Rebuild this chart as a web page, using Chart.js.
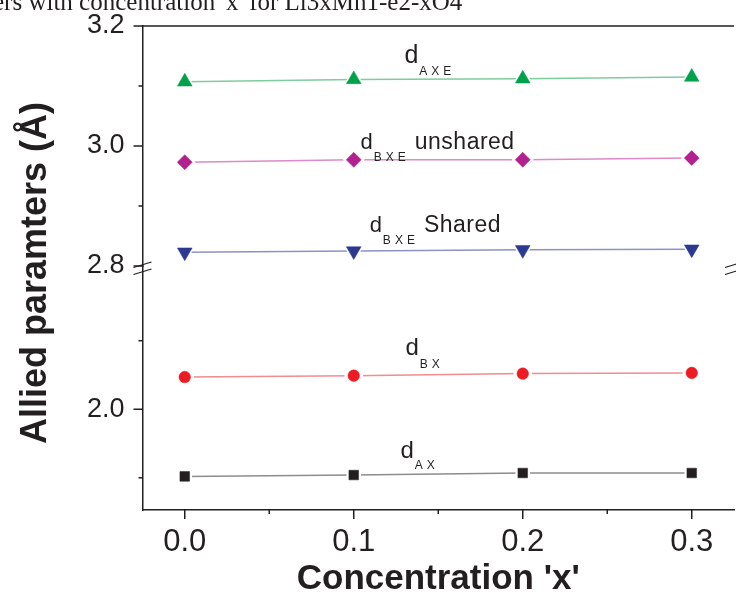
<!DOCTYPE html>
<html>
<head>
<meta charset="utf-8">
<script src="https://cdn.jsdelivr.net/npm/chart.js@4.4.0/dist/chart.umd.min.js"></script>
<style>
  html, body { margin: 0; padding: 0; background: #fff; overflow: hidden; width: 736px; height: 598px; }
  #wrap { position: relative; width: 736px; height: 598px; overflow: hidden; }
  #chart { position: absolute; left: 0; top: 0; }
  #cap { position: absolute; left: -7px; top: -11px; font: 25px "Liberation Serif", serif; line-height: 25px; color: #231f20; white-space: nowrap; }
</style>
</head>
<body>
<div id="wrap">
  <canvas id="chart" width="746" height="598"></canvas>
  <div id="cap">ers with concentration 'x' for Li3xMn1-e2-xO4</div>
</div>
<script>
// values
const concentration = [0.0, 0.1, 0.2, 0.3];
const dAXE = [3.107, 3.111, 3.112, 3.115];
const dBXEunshared = [2.973, 2.977, 2.977, 2.980];
const dBXEshared = [2.823, 2.825, 2.827, 2.828];
const dBX = [2.047, 2.049, 2.052, 2.053];
const dAX = [1.902, 1.904, 1.907, 1.907];

const xTicks = [0.0, 0.05, 0.1, 0.15, 0.2, 0.25, 0.3];
const xTickLabels = ['0.0', '', '0.1', '', '0.2', '', '0.3'];
const yTopTicks = [2.8, 2.9, 3.0, 3.1, 3.2];
const yTopTickLabels = ['2.8', '', '3.0', '', '3.2'];
const yLowTicks = [1.9, 2.0, 2.1];
const yLowTickLabels = ['', '2.0', ''];

const INK = '#231f20';
Chart.defaults.font.family = '"Liberation Sans", Arial, sans-serif';
Chart.defaults.color = INK;

const series = [
  { values: dAXE, axis: 'yTop', shape: 'triangle', rot: 0, r: 8.5, mark: '#00a14b', line: '#7fcc9c' },
  { values: dBXEunshared, axis: 'yTop', shape: 'rectRot', rot: 0, r: 7.5, mark: '#b3208f', line: '#dd8ac8' },
  { values: dBXEshared, axis: 'yTop', shape: 'triangle', rot: 180, r: 8.5, mark: '#2b3990', line: '#8c92c6' },
  { values: dBX, axis: 'yLow', shape: 'circle', r: 5.8, rot: 0, mark: '#ed1c24', line: '#f28c8f' },
  { values: dAX, axis: 'yLow', shape: 'rect', r: 6.8, rot: 0, mark: '#231f20', line: '#8d8d8d' }
];

const datasets = [];
series.forEach(s => {
  const pts = concentration.map((c, i) => ({ x: c, y: s.values[i] }));
  // thin line, with a white halo at each point so it stops short of the marker
  datasets.push({
    data: pts, yAxisID: s.axis, xAxisID: 'x', order: 2,
    showLine: true, borderColor: s.line, borderWidth: 1.5,
    pointStyle: s.shape, pointRotation: s.rot, pointRadius: s.r + 3.5,
    pointBackgroundColor: '#fff', pointBorderWidth: 0, pointHoverRadius: 0
  });
  datasets.push({
    data: pts, yAxisID: s.axis, xAxisID: 'x', order: 0,
    showLine: false, pointStyle: s.shape, pointRotation: s.rot, pointRadius: s.r,
    pointBackgroundColor: s.mark, pointBorderColor: s.mark, pointBorderWidth: 0.5
  });
});

// label anchors, in data units of each axis
const labelSpots = [
  { axis: 'yTop', x: 0.130, y: 3.138, size: 25, sub: 'AXE', drop: 12, rest: '' },
  { axis: 'yTop', x: 0.104, y: 2.995, size: 22, sub: 'BXE', drop: 12, rest: 'unshared' },
  { axis: 'yTop', x: 0.1094, y: 2.857, size: 22, sub: 'BXE', drop: 12, rest: 'Shared' },
  { axis: 'yLow', x: 0.1306, y: 2.079, size: 24, sub: 'BX', drop: 13, rest: '' },
  { axis: 'yLow', x: 0.1276, y: 1.929, size: 24, sub: 'AX', drop: 11, rest: '' }
];

function seg(ctx, x1, y1, x2, y2) {
  ctx.beginPath(); ctx.moveTo(x1, y1); ctx.lineTo(x2, y2); ctx.stroke();
}

const decor = {
  id: 'decor',
  afterDraw(chart) {
    const ctx = chart.ctx;
    const { left, right, top, bottom } = chart.chartArea;
    const sx = chart.scales.x, yT = chart.scales.yTop, yL = chart.scales.yLow;
    ctx.save();
    ctx.strokeStyle = INK;
    ctx.lineWidth = 1.5;
    seg(ctx, left, top, right, top);
    xTicks.forEach((v, i) => {
      const p = sx.getPixelForValue(v);
      seg(ctx, p, bottom, p, bottom + (xTickLabels[i] ? 9 : 4));
    });
    yTopTicks.forEach((v, i) => {
      const p = yT.getPixelForValue(v);
      seg(ctx, left - (yTopTickLabels[i] ? 9 : 4), p, left, p);
    });
    yLowTicks.forEach((v, i) => {
      const p = yL.getPixelForValue(v);
      seg(ctx, left - (yLowTickLabels[i] ? 9 : 4), p, left, p);
    });
    // axis break marks
    const yb = yT.bottom;
    [left, right].forEach(ax => {
      ctx.lineWidth = 1.3;
      seg(ctx, ax - 9, yb + 1.5, ax + 9, yb - 4);
      seg(ctx, ax - 9, yb + 8.5, ax + 9, yb + 3);
    });

    // y title
    ctx.fillStyle = INK;
    ctx.save();
    ctx.translate(36, (top + bottom) / 2 + 5);
    ctx.rotate(-Math.PI / 2);
    ctx.font = 'bold 36px "Liberation Sans", Arial, sans-serif';
    ctx.textAlign = 'center';
    ctx.textBaseline = 'middle';
    ctx.fillText('Allied paramters (Å)', 0, 0);
    ctx.restore();

    // series labels
    ctx.textBaseline = 'alphabetic';
    ctx.textAlign = 'left';
    labelSpots.forEach(l => {
      const px = sx.getPixelForValue(l.x);
      const py = chart.scales[l.axis].getPixelForValue(l.y);
      ctx.font = l.size + 'px "Liberation Sans", Arial, sans-serif';
      ctx.letterSpacing = '0px';
      ctx.fillText('d', px, py);
      let cx = px + ctx.measureText('d').width + 1;
      ctx.font = '12px "Liberation Sans", Arial, sans-serif';
      ctx.letterSpacing = '4px';
      ctx.fillText(l.sub, cx, py + l.drop);
      cx += ctx.measureText(l.sub).width + 5;
      if (l.rest) {
        ctx.font = '23px "Liberation Sans", Arial, sans-serif';
        ctx.letterSpacing = '0.5px';
        ctx.fillText(l.rest, cx, py);
      }
    });
    ctx.letterSpacing = '0px';
    ctx.restore();
  }
};

function fixedTicks(values) {
  return scale => { scale.ticks = values.map(v => ({ value: v })); };
}
function fitY(s) {
  s.width = 142.5;
  s.paddingTop = 0; s.paddingBottom = 0;
}
function fitX(s) {
  s.height = 88;
  s.paddingLeft = 0; s.paddingRight = 0;
}

new Chart(document.getElementById('chart'), {
  type: 'scatter',
  data: { datasets },
  options: {
    responsive: false,
    animation: false,
    events: [],
    layout: { padding: { left: 0, top: 26, right: 6.5, bottom: 0 } },
    plugins: { legend: { display: false }, tooltip: { enabled: false } },
    scales: {
      x: {
        type: 'linear', position: 'bottom', min: -0.025, max: 0.325,
        afterBuildTicks: fixedTicks(xTicks),
        afterFit: fitX,
        grid: { display: false, drawTicks: false },
        border: { display: true, color: INK, width: 1.5 },
        ticks: {
          autoSkip: false, maxRotation: 0, padding: 14,
          font: { size: 31 }, color: INK,
          callback: (v, i) => xTickLabels[i]
        },
        title: {
          display: true, text: "Concentration 'x'", color: INK,
          font: { size: 35, weight: 'bold' }, padding: { top: 0, bottom: -2 }
        }
      },
      yLow: {
        type: 'linear', position: 'left', stack: 'v', stackWeight: 244, weight: 0,
        min: 1.853, max: 2.209,
        afterBuildTicks: fixedTicks(yLowTicks),
        afterFit: fitY,
        grid: { display: false, drawTicks: false },
        border: { display: true, color: INK, width: 1.5 },
        ticks: { autoSkip: false, padding: 18, font: { size: 27 }, color: INK, callback: (v, i) => yLowTickLabels[i] }
      },
      yTop: {
        type: 'linear', position: 'left', stack: 'v', stackWeight: 240, weight: 1,
        min: 2.8, max: 3.2,
        afterBuildTicks: fixedTicks(yTopTicks),
        afterFit: fitY,
        grid: { display: false, drawTicks: false },
        border: { display: true, color: INK, width: 1.5 },
        ticks: { autoSkip: false, padding: 18, font: { size: 27 }, color: INK, callback: (v, i) => yTopTickLabels[i] }
      }
    }
  },
  plugins: [decor]
});
</script>
</body>
</html>
